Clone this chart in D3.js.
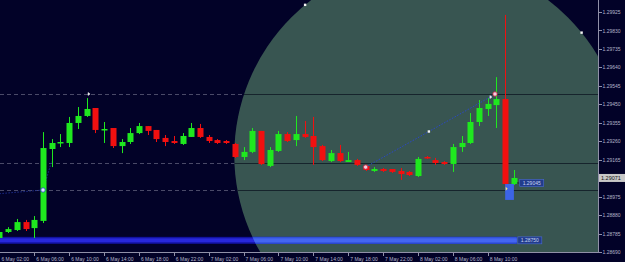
<!DOCTYPE html>
<html>
<head>
<meta charset="utf-8">
<script src="https://cdn.jsdelivr.net/npm/d3@7"></script>
<style>
    html, body { margin: 0; padding: 0; background: #020228; overflow: hidden; }
    svg { display: block; }
    .axis text { font-family: "Liberation Sans", Arial, sans-serif; font-size: 5px; fill: #b4b4c8; }
    .axis path, .axis line { stroke: #9090a8; shape-rendering: crispEdges; }
</style>
</head>
<body>
<div id="chart"></div>
<script>
(() => {
    // hourly bars, first bar is 6 May 02:00
    let firstBar = "6 May 02:00";
    let opens = [1.28762, 1.28793, 1.28803, 1.28844, 1.28813, 1.28850, 1.29220, 1.29251, 1.29251, 1.29354,
        1.29390, 1.29431, 1.29318, 1.29328, 1.29235, 1.29256, 1.29302, 1.29338, 1.29318, 1.29277,
        1.29261, 1.29246, 1.29282, 1.29328, 1.29282, 1.29266, 1.29261, 1.29246, 1.29179, 1.29205,
        1.29313, 1.29133, 1.29210, 1.29297, 1.29266, 1.29297, 1.29287, 1.29235, 1.29158, 1.29199,
        1.29153, 1.29163, 1.29133, 1.29107, 1.29117, 1.29117, 1.29107, 1.29102, 1.29081, 1.29179,
        1.29163, 1.29153, 1.29143, 1.29230, 1.29251, 1.29359, 1.29426, 1.29446, 1.29477, 1.29040];
    let highs = [1.28803, 1.28818, 1.28860, 1.28855, 1.28875, 1.29307, 1.29271, 1.29297, 1.29385, 1.29436,
        1.29482, 1.29431, 1.29359, 1.29328, 1.29271, 1.29328, 1.29354, 1.29338, 1.29318, 1.29292,
        1.29287, 1.29302, 1.29354, 1.29349, 1.29292, 1.29271, 1.29266, 1.29251, 1.29230, 1.29328,
        1.29313, 1.29230, 1.29313, 1.29307, 1.29390, 1.29364, 1.29385, 1.29241, 1.29215, 1.29241,
        1.29205, 1.29169, 1.29138, 1.29127, 1.29122, 1.29117, 1.29122, 1.29107, 1.29179, 1.29184,
        1.29174, 1.29158, 1.29246, 1.29287, 1.29405, 1.29472, 1.29482, 1.29590, 1.29910, 1.29112];
    let lows = [1.28752, 1.28788, 1.28798, 1.28798, 1.28762, 1.28839, 1.29127, 1.29230, 1.29230, 1.29323,
        1.29385, 1.29302, 1.29251, 1.29225, 1.29199, 1.29246, 1.29297, 1.29292, 1.29256, 1.29235,
        1.29246, 1.29241, 1.29282, 1.29277, 1.29251, 1.29246, 1.29246, 1.29174, 1.29163, 1.29199,
        1.29138, 1.29127, 1.29205, 1.29256, 1.29235, 1.29277, 1.29138, 1.29158, 1.29153, 1.29153,
        1.29153, 1.29133, 1.29107, 1.29102, 1.29102, 1.29097, 1.29061, 1.29081, 1.29076, 1.29169,
        1.29138, 1.29138, 1.29102, 1.29205, 1.29246, 1.29338, 1.29390, 1.29328, 1.29024, 1.29035];
    let closes = [1.28793, 1.28808, 1.28844, 1.28808, 1.28855, 1.29225, 1.29251, 1.29256, 1.29354, 1.29390,
        1.29426, 1.29318, 1.29323, 1.29235, 1.29256, 1.29302, 1.29338, 1.29313, 1.29271, 1.29256,
        1.29251, 1.29287, 1.29328, 1.29282, 1.29261, 1.29251, 1.29251, 1.29179, 1.29205, 1.29313,
        1.29143, 1.29215, 1.29297, 1.29261, 1.29297, 1.29282, 1.29230, 1.29163, 1.29199, 1.29158,
        1.29163, 1.29138, 1.29112, 1.29117, 1.29107, 1.29102, 1.29091, 1.29086, 1.29169, 1.29174,
        1.29148, 1.29143, 1.29230, 1.29251, 1.29359, 1.29431, 1.29452, 1.29477, 1.29040, 1.29071];

    let timeLabels = ["6 May 02:00", "6 May 06:00", "6 May 10:00", "6 May 14:00", "6 May 18:00",
        "6 May 22:00", "7 May 02:00", "7 May 06:00", "7 May 10:00", "7 May 14:00", "7 May 18:00",
        "7 May 22:00", "8 May 02:00", "8 May 06:00", "8 May 10:00"];
    let priceTicks = [1.29925, 1.29830, 1.29735, 1.29640, 1.29545, 1.29450, 1.29355,
        1.29260, 1.29165, 1.28975, 1.28880, 1.28785, 1.28690];

    // chart objects
    let hLevels = [1.29503, 1.29148, 1.29009];
    let trendStart = ["7 May 20:00", 1.29127];
    let trendEnd = ["8 May 10:30", 1.29493];
    let ellipseCenter = ["8 May 03:20", 1.29189];
    let ellipseRadius = [22.4, 0.01003];   // hours, price
    let ellipseAnchors = [-129.6, -38.9];  // degrees
    let bandPrice = 1.28750;
    let bandEnd = "8 May 13:20";
    let boxRange = [["8 May 12:00", 1.29040], ["8 May 13:00", 1.28958]];
    let noteLabel = ["8 May 13:40", 1.29045];

    let w = 625;
    let h = 262;
    let plotW = 598;
    let plotH = 252;

    let parse = d3.timeParse("%e %b %H:%M");
    let t0 = parse(firstBar);
    let bars = closes.map((c, i) => ({
        t: d3.timeHour.offset(t0, i), o: opens[i], h: highs[i], l: lows[i], c: c
    }));

    let x = d3.scaleTime()
        .domain([parse("6 May 06:00"), parse("8 May 10:00")])
        .range([34.3, 34.3 + 52 * 8.72]);
    let y = d3.scaleLinear()
        .domain([1.28690, 1.29925])
        .range([plotH, 12]);

    let svg = d3.select("#chart")
        .append("svg")
        .attr("width", w)
        .attr("height", h);

    let defs = svg.append("defs");
    defs.append("clipPath").attr("id", "plot")
        .append("rect").attr("width", plotW).attr("height", plotH);

    let ecx = x(parse(ellipseCenter[0]));
    let ecy = y(ellipseCenter[1]);
    let erx = x(d3.timeMinute.offset(parse(ellipseCenter[0]), ellipseRadius[0] * 60)) - ecx;
    let ery = y(ellipseCenter[1] - ellipseRadius[1]) - ecy;

    defs.append("clipPath").attr("id", "inEll")
        .append("ellipse").attr("cx", ecx).attr("cy", ecy).attr("rx", erx).attr("ry", ery);
    let mask = defs.append("mask").attr("id", "outEll");
    mask.append("rect").attr("width", w).attr("height", h).attr("fill", "white");
    mask.append("ellipse").attr("cx", ecx).attr("cy", ecy).attr("rx", erx).attr("ry", ery)
        .attr("fill", "black");

    svg.append("rect").attr("width", w).attr("height", h).attr("fill", "#020228");

    let plot = svg.append("g").attr("clip-path", "url(#plot)");

    plot.append("ellipse")
        .attr("cx", ecx).attr("cy", ecy).attr("rx", erx).attr("ry", ery)
        .attr("fill", "#385551");

    // horizontal lines: grey dashes on the dark part, dark inside the ellipse
    plot.append("g").attr("mask", "url(#outEll)")
        .selectAll("line").data(hLevels).enter().append("line")
        .attr("x1", 0).attr("x2", plotW)
        .attr("y1", d => Math.round(y(d)) + 0.5).attr("y2", d => Math.round(y(d)) + 0.5)
        .attr("stroke", "#4a4a68").attr("stroke-dasharray", "4,3");
    plot.append("g").attr("clip-path", "url(#inEll)")
        .selectAll("line").data(hLevels).enter().append("line")
        .attr("x1", 0).attr("x2", plotW)
        .attr("y1", d => Math.round(y(d)) + 0.5).attr("y2", d => Math.round(y(d)) + 0.5)
        .attr("stroke", "#16242c");

    // blue band near the bottom
    let bandY = y(bandPrice);
    let bandX2 = x(parse(bandEnd));
    plot.append("rect").attr("x", 0).attr("y", bandY - 3.5).attr("width", bandX2).attr("height", 7)
        .attr("fill", "#12129e");
    plot.append("rect").attr("x", 0).attr("y", bandY - 2).attr("width", bandX2).attr("height", 4)
        .attr("fill", "#2828dc");
    let bandIn = plot.append("g").attr("clip-path", "url(#inEll)");
    bandIn.append("rect").attr("x", 0).attr("y", bandY - 3.5).attr("width", bandX2).attr("height", 7)
        .attr("fill", "#3050d8");
    bandIn.append("rect").attr("x", 0).attr("y", bandY - 2).attr("width", bandX2).attr("height", 4)
        .attr("fill", "#4466f0");

    let smallBox = (g, px, py, txt) => {
        g.append("rect").attr("x", px).attr("y", py - 3.5).attr("width", 24).attr("height", 7)
            .attr("fill", "#223c8c").attr("stroke", "#4a6ad0").attr("stroke-width", 0.6);
        g.append("text").attr("x", px + 12).attr("y", py + 1.8)
            .attr("text-anchor", "middle")
            .style("font-family", "Liberation Sans, Arial, sans-serif")
            .style("font-size", "5px").attr("fill", "#c8d4f0").text(txt);
    };
    smallBox(plot, bandX2 + 1, bandY, bandPrice.toFixed(5));

    // faint trend on the left
    plot.append("line")
        .attr("x1", x(t0)).attr("y1", y(1.28990))
        .attr("x2", x(bars[5].t)).attr("y2", y(1.29009))
        .attr("stroke", "#1c2c8c").attr("stroke-dasharray", "1.5,1.5");
    plot.append("line")
        .attr("x1", x(bars[5].t)).attr("y1", y(1.29009))
        .attr("x2", x(bars[6].t)).attr("y2", y(1.29158))
        .attr("stroke", "#1c2c8c").attr("stroke-dasharray", "1.5,1.5");

    // candles
    let candles = plot.selectAll("g.candle")
        .data(bars)
        .enter()
        .append("g")
        .attr("class", "candle");

    let col = (d) => d.c >= d.o ? "#1fe81f" : "#f21010";

    candles.append("rect")
        .attr("x", d => Math.round(x(d.t)))
        .attr("y", d => y(d.h))
        .attr("width", 1)
        .attr("height", d => y(d.l) - y(d.h))
        .attr("fill", col);

    candles.append("rect")
        .attr("x", d => Math.round(x(d.t)) - 2.5)
        .attr("y", d => y(Math.max(d.o, d.c)))
        .attr("width", 6)
        .attr("height", d => Math.max(1.5, Math.abs(y(d.o) - y(d.c))))
        .attr("fill", col);

    // blue box under the last bars
    let bx1 = x(parse(boxRange[0][0]));
    let bx2 = x(parse(boxRange[1][0]));
    plot.append("rect")
        .attr("x", bx1).attr("y", y(boxRange[0][1]))
        .attr("width", bx2 - bx1).attr("height", y(boxRange[1][1]) - y(boxRange[0][1]))
        .attr("fill", "#3c64e6");
    plot.append("path")
        .attr("d", "M" + (bx1 + 0.5) + "," + (y(1.29015) - 2) + "l2,2l-2,2z")
        .attr("fill", "#f0e080");

    // note label next to the last bar
    let nx = x(parse(noteLabel[0]));
    plot.append("line")
        .attr("x1", x(bars[bars.length - 1].t) + 3).attr("x2", nx)
        .attr("y1", y(noteLabel[1])).attr("y2", y(noteLabel[1]))
        .attr("stroke", "#182830");
    smallBox(plot, nx, y(noteLabel[1]), noteLabel[1].toFixed(5));

    // trend line with its selection points
    let tx1 = x(parse(trendStart[0])), ty1 = y(trendStart[1]);
    let tx2 = x(parse(trendEnd[0])), ty2 = y(trendEnd[1]);
    plot.append("line")
        .attr("x1", tx1).attr("y1", ty1).attr("x2", tx2).attr("y2", ty2)
        .attr("stroke", "#2a48c8").attr("stroke-dasharray", "1.5,1.5");

    let dots = [[(tx1 + tx2) / 2, (ty1 + ty2) / 2]];
    ellipseAnchors.forEach(a => {
        let r = a * Math.PI / 180;
        dots.push([ecx + erx * Math.cos(r), ecy + ery * Math.sin(r)]);
    });
    plot.selectAll("rect.sel")
        .data(dots)
        .enter()
        .append("rect")
        .attr("class", "sel")
        .attr("x", d => d[0] - 1.2).attr("y", d => d[1] - 1.2)
        .attr("width", 2.4).attr("height", 2.4)
        .attr("fill", "#f4f4f4");

    // trade markers
    let markers = [
        [bars[5].t, 1.29009, "#dfe6ff", "#2040c0"],
        [trendStart[0], trendStart[1], "#f3d0e0", "#d02040"],
        ["8 May 10:50", 1.29503, "#f3d0e0", "#d02040"]
    ];
    plot.selectAll("circle.mk")
        .data(markers)
        .enter()
        .append("circle")
        .attr("class", "mk")
        .attr("cx", d => x(typeof d[0] === "string" ? parse(d[0]) : d[0]))
        .attr("cy", d => y(d[1]))
        .attr("r", 2.2)
        .attr("fill", d => d[2])
        .attr("stroke", d => d[3])
        .attr("stroke-width", 0.8);
    let flags = [["6 May 12:10", 1.29498], ["8 May 10:15", 1.29482]];
    plot.selectAll("path.flag")
        .data(flags)
        .enter()
        .append("path")
        .attr("class", "flag")
        .attr("d", d => {
            let fx = x(parse(d[0])), fy = y(d[1]);
            return "M" + fx + "," + (fy - 2.5) + "l2,1.5l-2,1.5z";
        })
        .attr("fill", "#f0f0f0")
        .attr("stroke", "#f0f0f0")
        .attr("stroke-width", 0.5);

    // axes
    let fmt = d3.timeFormat("%-d %b %H:%M");
    let xAxis = d3.axisBottom(x)
        .tickValues(timeLabels.map(parse))
        .tickFormat(fmt)
        .tickSize(3)
        .tickSizeOuter(0);
    let gx = svg.append("g")
        .attr("class", "axis")
        .attr("transform", "translate(0," + (plotH + 0.5) + ")")
        .call(xAxis);
    gx.select(".domain").attr("d", "M0,0H" + plotW);
    gx.selectAll("text").attr("text-anchor", "start").attr("dx", 1.5).attr("y", 4.5);

    let yAxis = d3.axisRight(y)
        .tickValues(priceTicks)
        .tickFormat(d3.format(".5f"))
        .tickSize(3)
        .tickSizeOuter(0);
    let gy = svg.append("g")
        .attr("class", "axis")
        .attr("transform", "translate(" + (plotW + 0.5) + ",0)")
        .call(yAxis);
    gy.select(".domain").attr("d", "M0,0V" + (plotH + 0.5));
    gy.selectAll("text").attr("x", 4);

    // current price tag
    let last = bars[bars.length - 1].c;
    svg.append("rect")
        .attr("x", plotW + 1).attr("y", y(last) - 4).attr("width", 26).attr("height", 8)
        .attr("fill", "#c8c8c8");
    svg.append("text")
        .attr("x", plotW + 3).attr("y", y(last) + 2)
        .style("font-family", "Liberation Sans, Arial, sans-serif")
        .style("font-size", "5.5px")
        .attr("fill", "#101010")
        .text(last.toFixed(5));
})();
</script>
</body>
</html>
